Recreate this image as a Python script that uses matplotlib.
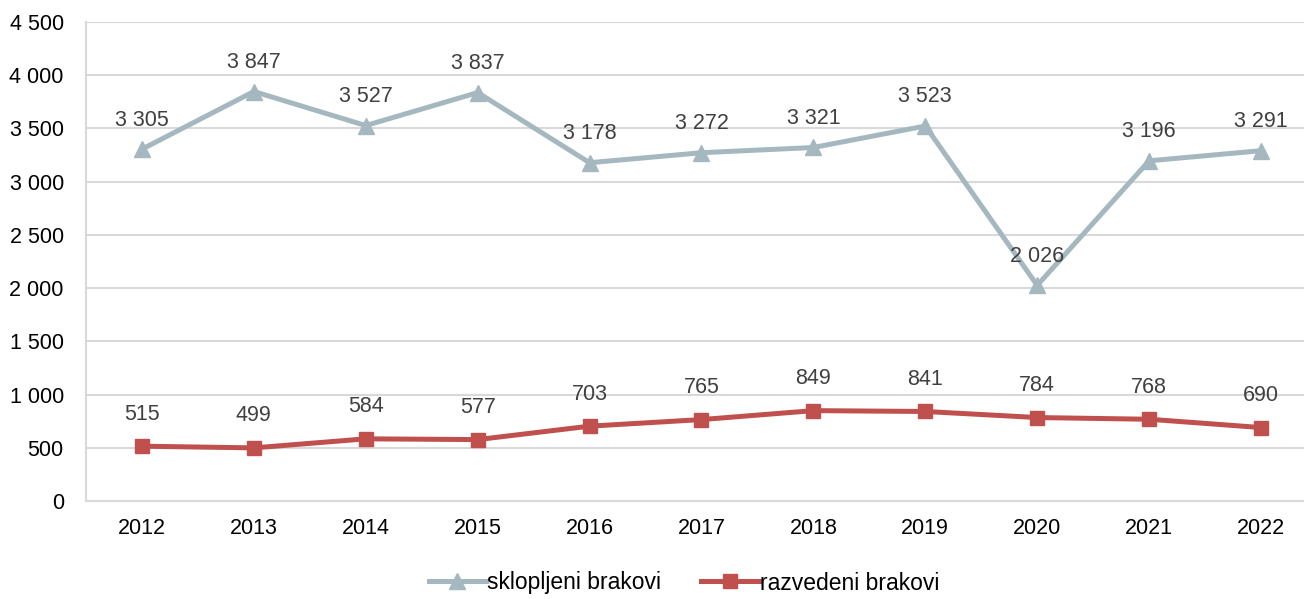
import matplotlib
matplotlib.use("Agg")
import matplotlib.pyplot as plt
from matplotlib.ticker import FuncFormatter, MultipleLocator

plt.rcParams['font.family'] = ['Liberation Sans', 'DejaVu Sans']

years = ["2012", "2013", "2014", "2015", "2016", "2017", "2018", "2019", "2020", "2021", "2022"]
sklopljeni = [3305, 3847, 3527, 3837, 3178, 3272, 3321, 3523, 2026, 3196, 3291]
razvedeni = [515, 499, 584, 577, 703, 765, 849, 841, 784, 768, 690]

c_gray = "#A5B8C0"
c_red = "#C0504D"

W, H = 1304, 599
fig = plt.figure(figsize=(W / 100, H / 100), dpi=100)
ax = fig.add_axes([86 / W, (H - 501) / H, (W - 86) / W, (501 - 22) / H])

x = list(range(len(years)))
ax.plot(x, sklopljeni, color=c_gray, lw=3.6, marker="^", ms=11, mec=c_gray, mfc=c_gray,
        label="sklopljeni brakovi", solid_joinstyle="round")
ax.plot(x, razvedeni, color=c_red, lw=3.6, marker="s", ms=10, mec=c_red, mfc=c_red,
        label="razvedeni brakovi", solid_joinstyle="round")

fmt = lambda v: f"{int(v):,}".replace(",", " ")
for xi, v in zip(x, sklopljeni):
    ax.annotate(fmt(v), (xi, v), xytext=(0, 21), textcoords="offset points", ha="center",
                va="center", fontsize=15.5, color="#404040")
for xi, v in zip(x, razvedeni):
    ax.annotate(fmt(v), (xi, v), xytext=(0, 23), textcoords="offset points", ha="center",
                va="center", fontsize=15.5, color="#404040")

ax.set_ylim(0, 4500)
ax.set_xlim(-0.5, 10.5 - 13 / 112)
ax.yaxis.set_major_locator(MultipleLocator(500))
ax.yaxis.set_major_formatter(FuncFormatter(lambda v, p: fmt(v)))
ax.set_xticks(x)
ax.set_xticklabels(years)
ax.tick_params(axis="both", length=0, labelsize=15.5, colors="black")
ax.tick_params(axis="x", pad=12)
ax.tick_params(axis="y", pad=16)
ax.grid(axis="y", color="#D9D9D9", lw=1.5)
ax.set_axisbelow(True)
for s in ["top", "right"]:
    ax.spines[s].set_visible(False)
for s in ["left", "bottom"]:
    ax.spines[s].set_color("#D9D9D9")
    ax.spines[s].set_linewidth(1.5)

fig.legend(loc="center", bbox_to_anchor=(684 / W, 1 - 583 / H), ncol=2, frameon=False,
           fontsize=16.5, handlelength=2.5, handletextpad=0.05, columnspacing=1.75)

fig.savefig("out.png", dpi=100)
